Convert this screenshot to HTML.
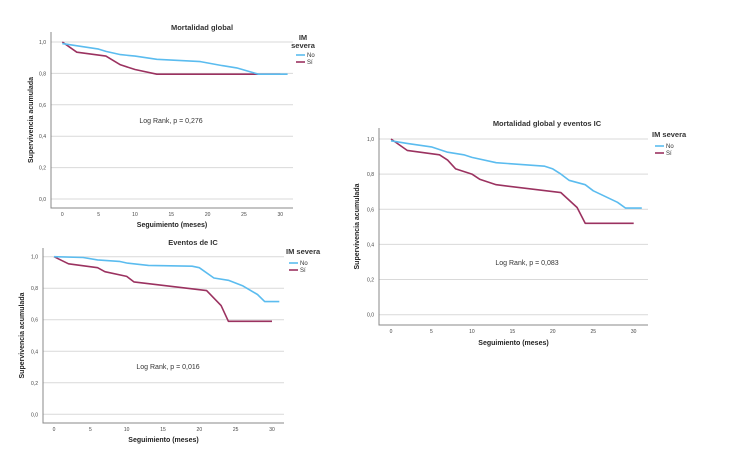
<!DOCTYPE html>
<html><head><meta charset="utf-8"><style>
html,body{margin:0;padding:0;background:#fff;}
svg{display:block;font-family:"Liberation Sans",sans-serif;}
</style></head><body>
<svg id="c" width="750" height="469"></svg>
<script>
const xTicks=[0,5,10,15,20,25,30];
const yTicks=[0,0.2,0.4,0.6,0.8,1.0];
const yTickLabels=["0,0","0,2","0,4","0,6","0,8","1,0"];
const c1Title="Mortalidad global", c1P="Log Rank, p = 0,276";
const c1NoX=[0,5,6,8,10,13,19,22,24,27,31];
const c1NoY=[0.99,0.955,0.94,0.92,0.91,0.89,0.875,0.85,0.835,0.795,0.795];
const c1SiX=[0,2,6,8,10,13,30];
const c1SiY=[1,0.935,0.91,0.855,0.825,0.795,0.795];
const c2Title="Eventos de IC", c2P="Log Rank, p = 0,016";
const c2NoX=[0,4,6,9,10,13,19,20,22,24,26,28,29,31];
const c2NoY=[1,0.995,0.98,0.97,0.96,0.945,0.94,0.93,0.865,0.85,0.815,0.76,0.715,0.715];
const c2SiX=[0,2,6,7,10,11,21,23,24,30];
const c2SiY=[1,0.955,0.93,0.905,0.875,0.84,0.785,0.69,0.59,0.59];
const c3Title="Mortalidad global y eventos IC", c3P="Log Rank, p = 0,083";
const c3NoX=[0,2,5,7,9,10,13,19,20,21,22,24,25,28,29,31];
const c3NoY=[0.99,0.975,0.955,0.925,0.91,0.895,0.865,0.845,0.83,0.80,0.765,0.74,0.705,0.64,0.607,0.607];
const c3SiX=[0,2,6,7,8,10,11,13,21,23,24,30];
const c3SiY=[1,0.935,0.91,0.88,0.83,0.80,0.77,0.74,0.695,0.61,0.52,0.52];

const NS="http://www.w3.org/2000/svg";
const svg=document.getElementById('c');
function mk(tag,attrs,parent,text){const e=document.createElementNS(NS,tag);for(const k in attrs)e.setAttribute(k,attrs[k]);if(text!==undefined)e.textContent=text;(parent||svg).appendChild(e);return e;}

function chart(id,g,title,p,noX,noY,siX,siY){
  const grp=mk('g',{});
  
  
  const sx=v=>g.x0+(g.x30-g.x0)*v/30;
  const sy=v=>g.y0+(g.y1-g.y0)*v;
  yTicks.forEach((t,i)=>{
    const l=mk('line',{x1:g.L,x2:g.R,y1:sy(t),y2:sy(t),stroke:'#d9d9d9','stroke-width':1},grp);
    
    
    const tx=mk('text',{x:g.L-5,y:sy(t)+2,'font-size':5,'text-anchor':'end',fill:'#444'},grp,yTickLabels[i]);
    
    
  });
  xTicks.forEach(t=>{
    const tx=mk('text',{x:sx(t),y:g.B+8,'font-size':5,'text-anchor':'middle',fill:'#444'},grp,String(t));
    
    
  });
  const ax=mk('path',{d:`M${g.L},${g.T}V${g.B}H${g.R}`,fill:'none',stroke:'#888','stroke-width':1},grp);
  
  
  function line(xs,ys,col,name){
    const d=xs.map((x,i)=>(i?'L':'M')+sx(x).toFixed(1)+','+sy(ys[i]).toFixed(1)).join('');
    const pth=mk('path',{d:d,fill:'none',stroke:col,'stroke-width':1.6,'stroke-linejoin':'round'},grp);
    
    
  }
  line(siX,siY,'#9b3260','series-si');
  line(noX,noY,'#5bbcef','series-no');
  const tt=mk('text',{x:g.tx,y:g.ty,'font-size':7.5,'font-weight':'bold','text-anchor':'middle',fill:'#333'},grp,title);
  
  
  const pt=mk('text',{x:g.px,y:g.py,'font-size':7,'text-anchor':'middle',fill:'#333'},grp,p);
  
  
  const xt=mk('text',{x:(g.L+g.R)/2,y:g.xty,'font-size':7,'font-weight':'bold','text-anchor':'middle',fill:'#222'},grp,'Seguimiento (meses)');
  
  
  const yc=(g.T+g.B)/2;
  const yt=mk('text',{x:g.ytx,y:yc,'font-size':7,'font-weight':'bold','text-anchor':'middle',fill:'#222',transform:`rotate(-90 ${g.ytx} ${yc})`},grp,'Supervivencia acumulada');
  
  
  g.leg.forEach((s,i)=>{
    const lt=mk('text',{x:g.lx+(g.legCenter?10:0),y:g.ly+i*8,'font-size':7.5,'font-weight':'bold','text-anchor':g.legCenter?'middle':'start',fill:'#333'},grp,s);
    
    
  });
  [['No','#5bbcef'],['Sí','#9b3260']].forEach((e,i)=>{
    const y=g.ny+i*7;
    const l=mk('line',{x1:g.lx+3,x2:g.lx+12,y1:y,y2:y,stroke:e[1],'stroke-width':1.6},grp);
    
    
    const t=mk('text',{x:g.lx+14,y:y+2,'font-size':6,fill:'#333'},grp,e[0]);
    
    
  });
}
chart('chart-mortalidad-global',{L:51,R:293,T:32,B:208,x0:62.3,x30:280.3,y0:199,y1:42,tx:202,ty:30,px:171,py:123,xty:227,ytx:33,lx:293,ly:40,leg:['IM','severa'],legCenter:true,ny:55},c1Title,c1P,c1NoX,c1NoY,c1SiX,c1SiY);
chart('chart-eventos-ic',{L:43,R:284,T:248,B:423,x0:54,x30:272,y0:414.3,y1:256.7,tx:193,ty:245,px:168,py:369,xty:442,ytx:24,lx:286,ly:254,leg:['IM severa'],legCenter:false,ny:263},c2Title,c2P,c2NoX,c2NoY,c2SiX,c2SiY);
chart('chart-mortalidad-eventos-ic',{L:379,R:648,T:128,B:325,x0:391,x30:633.7,y0:314.7,y1:139,tx:547,ty:126,px:527,py:265,xty:345,ytx:359,lx:652,ly:137,leg:['IM severa'],legCenter:false,ny:146},c3Title,c3P,c3NoX,c3NoY,c3SiX,c3SiY);
</script>
</body></html>
